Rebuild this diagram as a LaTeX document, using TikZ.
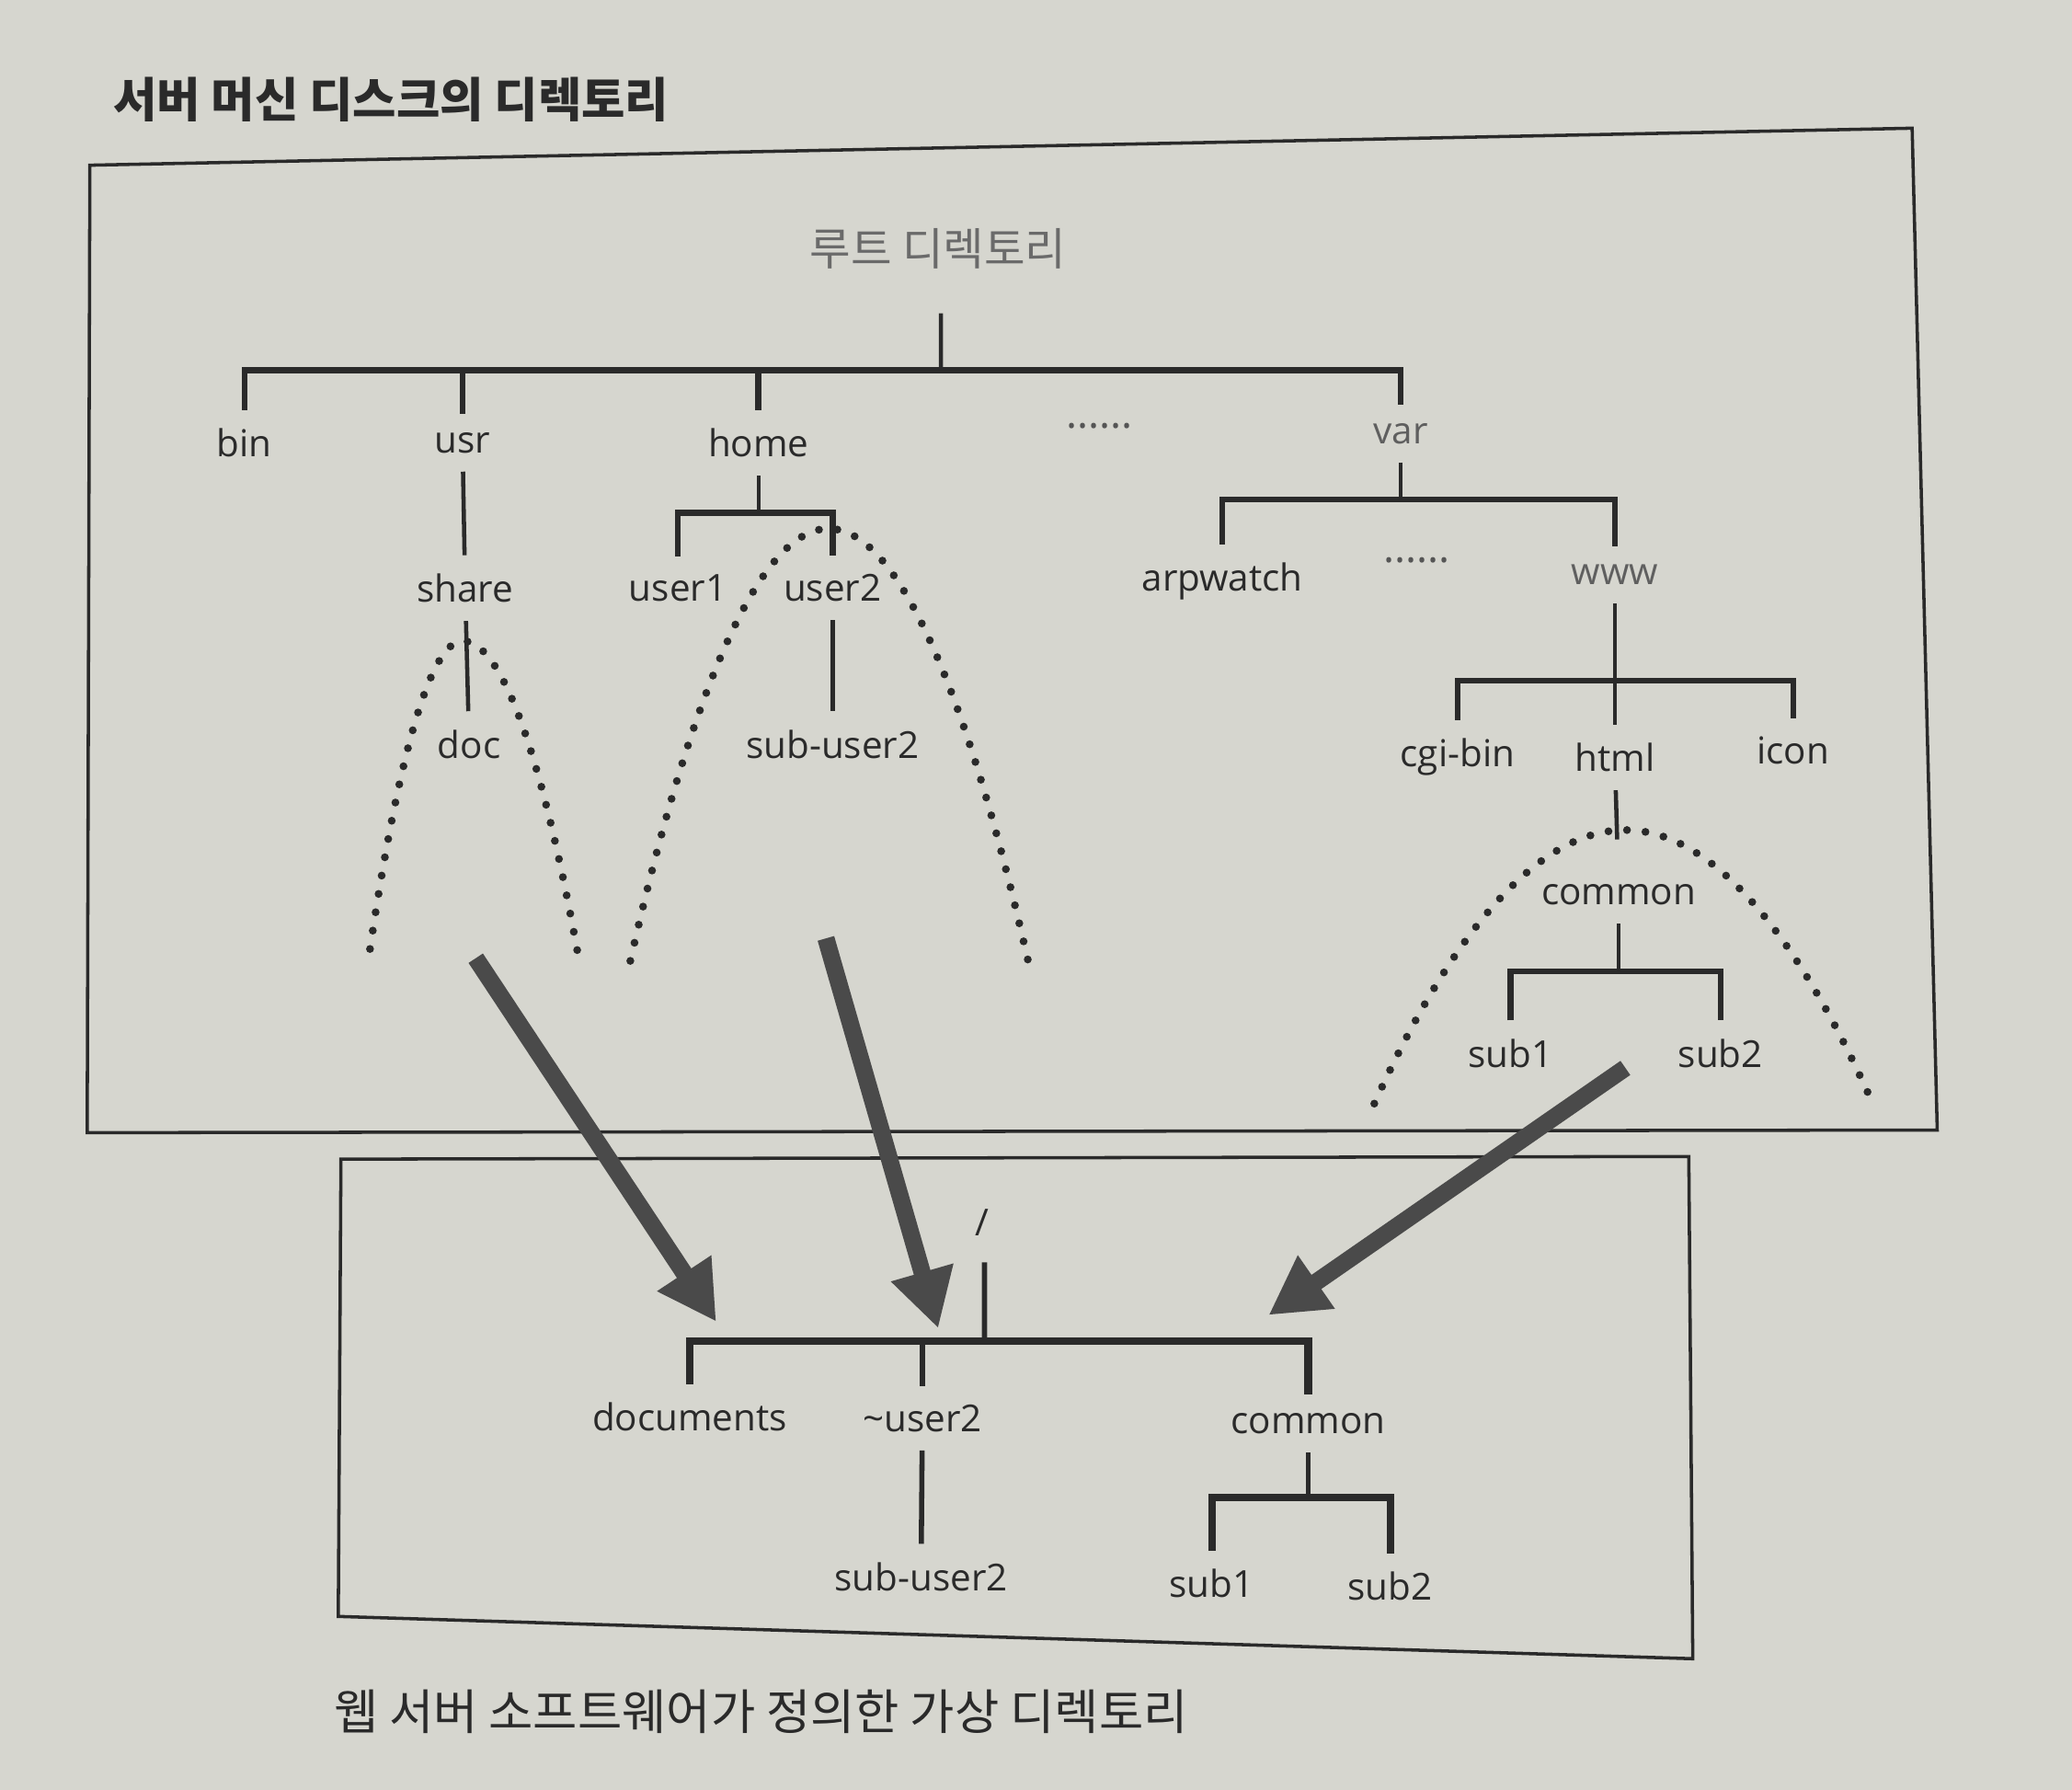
\documentclass[tikz,border=0pt]{standalone}
\usepackage{fontspec}
\setmainfont{Open Sans}
\newfontfamily\krfont{Noto Sans CJK KR}
\usepackage{tikz}
\usetikzlibrary{arrows.meta, calc}
\definecolor{paper}{RGB}{214,214,207}
\definecolor{ink}{RGB}{42,42,42}
\definecolor{arrowgray}{RGB}{74,74,74}
\tikzset{
    dir/.style={font=\fontsize{8}{9}\selectfont, text=ink, inner sep=1.5pt, outer sep=2.5pt},
    krtext/.style={font=\krfont\fontsize{10.2}{12}\selectfont, text=ink, inner sep=0pt},
    branch/.style={draw=ink, line width=0.9pt},
    bar/.style={draw=ink, line width=1.3pt},
    dotarc/.style={draw=ink, line width=1.7pt, line cap=round, dash pattern=on 0pt off 4pt},
    maparrow/.style={draw=arrowgray, line width=3.7pt, -{Triangle[length=0.44cm, width=0.46cm]}},
    frame/.style={draw=ink, line width=0.7pt},
    ellipsis/.style={font=\fontsize{9}{10}\selectfont, text=ink!80, inner sep=0pt},
}

\begin{document}
\begin{tikzpicture}
    \useasboundingbox (0,0) rectangle (15.68,-13.54);
    \fill[paper] (0,0) rectangle (15.68,-13.54);

    % frames
    \draw[frame] (0.68,-1.25) -- (14.47,-0.97) -- (14.66,-8.55) -- (0.66,-8.57) -- cycle;
    \draw[frame] (2.58,-8.77) -- (12.78,-8.75) -- (12.81,-12.55) -- (2.56,-12.23) -- cycle;

    \node[krtext, font=\krfont\bfseries\fontsize{10.2}{12}\selectfont, anchor=west] (disktitle) at (0.85,-0.75) {서버 머신 디스크의 디렉토리};
    \node[krtext, font=\krfont\fontsize{10.4}{12}\selectfont, anchor=west] (virtcaption) at (2.52,-12.95) {웹 서버 소프트웨어가 정의한 가상 디렉토리};

    % server disk tree
    \node[krtext, text=ink!70, font=\krfont\fontsize{9.6}{11}\selectfont] (root) at (7.10,-1.88) {루트 디렉토리};
    \node[dir] (bin) at (1.85,-3.35) {bin};
    \node[dir] (usr) at (3.50,-3.35) {usr};
    \node[dir] (home) at (5.74,-3.35) {home};
    \node[ellipsis] (more1) at (8.32,-3.22) {......};
    \node[dir, text=ink!75] (var) at (10.60,-3.28) {var};
    \node[dir] (share) at (3.52,-4.45) {share};
    \node[dir] (doc) at (3.55,-5.63) {doc};
    \node[dir] (user1) at (5.13,-4.45) {user1};
    \node[dir] (user2) at (6.30,-4.45) {user2};
    \node[dir] (subuser2) at (6.30,-5.63) {sub-user2};
    \node[dir] (arpwatch) at (9.25,-4.40) {arpwatch};
    \node[ellipsis] (more2) at (10.72,-4.24) {......};
    \node[dir, text=ink!75] (www) at (12.22,-4.35) {www};
    \node[dir] (cgibin) at (11.03,-5.73) {cgi-bin};
    \node[dir] (html) at (12.22,-5.73) {html};
    \node[dir] (icon) at (13.57,-5.68) {icon};
    \node[dir] (common) at (12.25,-6.77) {common};
    \node[dir] (sub1) at (11.43,-7.97) {sub1};
    \node[dir] (sub2) at (13.02,-7.97) {sub2};

    \coordinate (rootj) at (7.12,-2.80);
    \coordinate (homej) at (5.74,-3.88);
    \coordinate (varj) at (10.60,-3.78);
    \coordinate (wwwj) at (12.22,-5.15);
    \coordinate (commonj) at (12.25,-7.35);

    \draw[branch] ([xshift=0.2mm, yshift=-3.3mm]root.south) -- (rootj);
    \draw[bar] (bin.north) |- (rootj) -| (var.north);
    \draw[bar] (usr.north) -- (usr.north |- rootj);
    \draw[bar] (home.north) -- (home.north |- rootj);
    \draw[branch] (usr) -- (share);
    \draw[branch] (share) -- (doc);
    \draw[branch] (home) -- (homej);
    \draw[bar] (user1.north) |- (homej) -| (user2.north);
    \draw[branch] (user2) -- (subuser2);
    \draw[branch] (var) -- (varj);
    \draw[bar] (arpwatch.north) |- (varj) -| (www.north);
    \draw[branch] (www) -- (html);
    \draw[bar] (cgibin.north) |- (wwwj) -| (icon.north);
    \draw[branch, shorten >=2mm] (html) -- (common);
    \draw[branch] (common) -- (commonj);
    \draw[bar] (sub1.north) |- (commonj) -| (sub2.north);

    % dotted mount points
    \draw[dotarc] (2.80,-7.18) parabola bend (3.50,-4.85) (4.37,-7.20);
    \draw[dotarc] (4.77,-7.27) parabola bend (6.27,-4.00) (7.78,-7.27);
    \draw[dotarc] (10.40,-8.35) parabola bend (12.30,-6.28) (14.15,-8.30);

    % virtual tree
    \node[dir] (vroot) at (7.43,-9.25) {/};
    \node[dir] (documents) at (5.22,-10.72) {documents};
    \node[dir] (tildeuser2) at (6.98,-10.73) {\textasciitilde user2};
    \node[dir] (vcommon) at (9.90,-10.77) {common};
    \node[dir] (vsubuser2) at (6.97,-11.93) {sub-user2};
    \node[dir] (vsub1) at (9.17,-11.98) {sub1};
    \node[dir] (vsub2) at (10.52,-12.00) {sub2};

    \coordinate (vrootj) at (7.45,-10.15);
    \coordinate (vcommonj) at (9.90,-11.33);

    \draw[branch, line width=1.1pt] ([xshift=0.2mm, yshift=-0.6mm]vroot.south) -- (vrootj);
    \draw[bar, line width=1.6pt] (documents.north) |- (vrootj) -| (vcommon.north);
    \draw[bar, line width=1.1pt] (tildeuser2.north) -- (tildeuser2.north |- vrootj);
    \draw[branch, line width=1.1pt] (tildeuser2) -- (vsubuser2);
    \draw[branch, line width=1.1pt] (vcommon) -- (vcommonj);
    \draw[bar, line width=1.6pt] (vsub1.north) |- (vcommonj) -| (vsub2.north);

    % mapping arrows
    \coordinate (docfrom) at (3.60,-7.25);
    \coordinate (docto) at (5.42,-10.00);
    \coordinate (userfrom) at (6.25,-7.10);
    \coordinate (userto) at (7.10,-10.05);
    \coordinate (commonfrom) at (12.30,-8.08);
    \coordinate (commonto) at (9.60,-9.95);
    \draw[maparrow] (docfrom) -- (docto);
    \draw[maparrow] (userfrom) -- (userto);
    \draw[maparrow] (commonfrom) -- (commonto);
\end{tikzpicture}
\end{document}
